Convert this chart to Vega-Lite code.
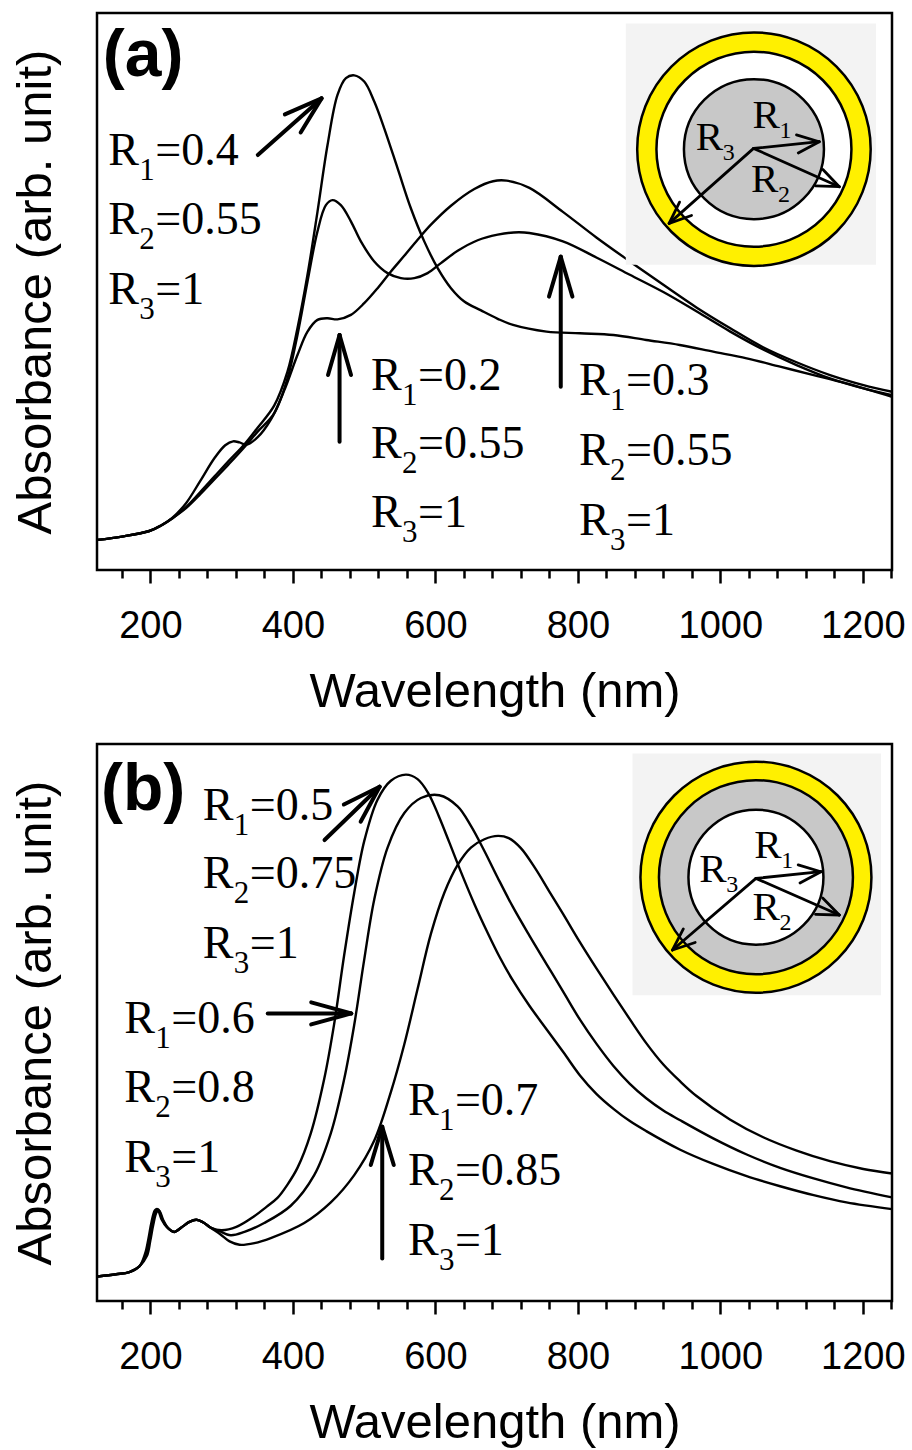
{
"$schema": "https://vega.github.io/schema/vega-lite/v6.json",
"background": "white",
"padding": {"left": 9, "top": 11, "right": 5, "bottom": 0},
"spacing": 174,
"bounds": "flush",
"config": {
  "view": {"stroke": "black", "strokeWidth": 2.5},
  "axis": {"grid": false, "domain": false, "labelFont": "Liberation Sans", "titleFont": "Liberation Sans", "labelColor": "black", "titleColor": "black", "titleFontWeight": "normal", "tickColor": "black"},
  "text": {"font": "Liberation Serif", "color": "black", "align": "left", "baseline": "alphabetic"}
},
"datasets": {
  "a_curves": [
    {"s":"a4","wl":125.4,"val":0.054},{"s":"a4","wl":160,"val":0.060},{"s":"a4","wl":198.5,"val":0.070},{"s":"a4","wl":215,"val":0.080},{"s":"a4","wl":231,"val":0.093},{"s":"a4","wl":250,"val":0.113},{"s":"a4","wl":270,"val":0.140},{"s":"a4","wl":290,"val":0.168},{"s":"a4","wl":310,"val":0.196},{"s":"a4","wl":331.5,"val":0.225},{"s":"a4","wl":350.2,"val":0.255},{"s":"a4","wl":373.7,"val":0.295},{"s":"a4","wl":392.4,"val":0.356},{"s":"a4","wl":406.4,"val":0.434},{"s":"a4","wl":420.5,"val":0.530},{"s":"a4","wl":434.5,"val":0.643},{"s":"a4","wl":448.6,"val":0.763},{"s":"a4","wl":462.6,"val":0.853},{"s":"a4","wl":474.4,"val":0.883},{"s":"a4","wl":486.1,"val":0.888},{"s":"a4","wl":500.1,"val":0.877},{"s":"a4","wl":514.2,"val":0.841},{"s":"a4","wl":528.2,"val":0.793},{"s":"a4","wl":547.0,"val":0.721},{"s":"a4","wl":565.7,"val":0.649},{"s":"a4","wl":584.4,"val":0.590},{"s":"a4","wl":603.2,"val":0.542},{"s":"a4","wl":621.9,"val":0.506},{"s":"a4","wl":640.6,"val":0.482},{"s":"a4","wl":664.1,"val":0.466},{"s":"a4","wl":687.5,"val":0.451},{"s":"a4","wl":709,"val":0.440},{"s":"a4","wl":756,"val":0.428},{"s":"a4","wl":803,"val":0.425},{"s":"a4","wl":850,"val":0.422},{"s":"a4","wl":896,"val":0.413},{"s":"a4","wl":943,"val":0.404},{"s":"a4","wl":990,"val":0.392},{"s":"a4","wl":1037,"val":0.380},{"s":"a4","wl":1084,"val":0.365},{"s":"a4","wl":1131,"val":0.350},{"s":"a4","wl":1177,"val":0.335},{"s":"a4","wl":1241,"val":0.311},
    {"s":"a3","wl":125.4,"val":0.054},{"s":"a3","wl":160,"val":0.060},{"s":"a3","wl":198.5,"val":0.070},{"s":"a3","wl":215,"val":0.080},{"s":"a3","wl":231,"val":0.093},{"s":"a3","wl":250,"val":0.111},{"s":"a3","wl":270,"val":0.136},{"s":"a3","wl":290,"val":0.163},{"s":"a3","wl":310,"val":0.190},{"s":"a3","wl":331.5,"val":0.220},{"s":"a3","wl":350.2,"val":0.248},{"s":"a3","wl":373.7,"val":0.281},{"s":"a3","wl":392.4,"val":0.344},{"s":"a3","wl":406.4,"val":0.422},{"s":"a3","wl":420.5,"val":0.518},{"s":"a3","wl":434.5,"val":0.608},{"s":"a3","wl":446.3,"val":0.655},{"s":"a3","wl":455.6,"val":0.664},{"s":"a3","wl":467.3,"val":0.655},{"s":"a3","wl":481.4,"val":0.626},{"s":"a3","wl":495.4,"val":0.590},{"s":"a3","wl":514.2,"val":0.554},{"s":"a3","wl":532.9,"val":0.533},{"s":"a3","wl":551.6,"val":0.524},{"s":"a3","wl":570.4,"val":0.524},{"s":"a3","wl":589.1,"val":0.533},{"s":"a3","wl":607.8,"val":0.551},{"s":"a3","wl":631.3,"val":0.573},{"s":"a3","wl":659.4,"val":0.592},{"s":"a3","wl":687.5,"val":0.602},{"s":"a3","wl":710,"val":0.606},{"s":"a3","wl":732,"val":0.605},{"s":"a3","wl":779,"val":0.590},{"s":"a3","wl":826,"val":0.561},{"s":"a3","wl":873,"val":0.530},{"s":"a3","wl":920,"val":0.499},{"s":"a3","wl":967,"val":0.464},{"s":"a3","wl":1014,"val":0.428},{"s":"a3","wl":1060,"val":0.396},{"s":"a3","wl":1107,"val":0.368},{"s":"a3","wl":1154,"val":0.344},{"s":"a3","wl":1201,"val":0.326},{"s":"a3","wl":1241,"val":0.314},
    {"s":"a2","wl":125.4,"val":0.054},{"s":"a2","wl":160,"val":0.060},{"s":"a2","wl":198.5,"val":0.070},{"s":"a2","wl":215,"val":0.080},{"s":"a2","wl":231,"val":0.094},{"s":"a2","wl":250,"val":0.120},{"s":"a2","wl":270,"val":0.160},{"s":"a2","wl":290,"val":0.201},{"s":"a2","wl":305,"val":0.224},{"s":"a2","wl":316,"val":0.231},{"s":"a2","wl":325,"val":0.229},{"s":"a2","wl":335,"val":0.225},{"s":"a2","wl":350.2,"val":0.238},{"s":"a2","wl":369,"val":0.270},{"s":"a2","wl":387.7,"val":0.322},{"s":"a2","wl":406.4,"val":0.386},{"s":"a2","wl":420.5,"val":0.428},{"s":"a2","wl":434.5,"val":0.449},{"s":"a2","wl":448.6,"val":0.452},{"s":"a2","wl":462.6,"val":0.450},{"s":"a2","wl":481.4,"val":0.458},{"s":"a2","wl":500.1,"val":0.479},{"s":"a2","wl":518.9,"val":0.506},{"s":"a2","wl":537.6,"val":0.536},{"s":"a2","wl":556.3,"val":0.564},{"s":"a2","wl":575.1,"val":0.593},{"s":"a2","wl":593.8,"val":0.620},{"s":"a2","wl":621.9,"val":0.654},{"s":"a2","wl":654.7,"val":0.684},{"s":"a2","wl":681,"val":0.698},{"s":"a2","wl":700,"val":0.699},{"s":"a2","wl":732,"val":0.686},{"s":"a2","wl":779,"val":0.643},{"s":"a2","wl":826,"val":0.597},{"s":"a2","wl":873,"val":0.554},{"s":"a2","wl":920,"val":0.512},{"s":"a2","wl":967,"val":0.471},{"s":"a2","wl":1014,"val":0.434},{"s":"a2","wl":1060,"val":0.400},{"s":"a2","wl":1107,"val":0.373},{"s":"a2","wl":1154,"val":0.350},{"s":"a2","wl":1201,"val":0.332},{"s":"a2","wl":1241,"val":0.320}
  ],
  "b_curves": [
    {"s":"b5","wl":125.8,"val":0.044},{"s":"b5","wl":151.7,"val":0.048},{"s":"b5","wl":170.4,"val":0.052},{"s":"b5","wl":184.4,"val":0.062},{"s":"b5","wl":192.5,"val":0.085},{"s":"b5","wl":197.2,"val":0.112},{"s":"b5","wl":201.4,"val":0.141},{"s":"b5","wl":206.3,"val":0.163},{"s":"b5","wl":209.8,"val":0.165},{"s":"b5","wl":215.5,"val":0.147},{"s":"b5","wl":222.8,"val":0.133},{"s":"b5","wl":233.6,"val":0.124},{"s":"b5","wl":243.4,"val":0.132},{"s":"b5","wl":254.7,"val":0.142},{"s":"b5","wl":264.5,"val":0.146},{"s":"b5","wl":274.4,"val":0.141},{"s":"b5","wl":284.2,"val":0.132},{"s":"b5","wl":299.7,"val":0.127},{"s":"b5","wl":320.7,"val":0.133},{"s":"b5","wl":345.6,"val":0.152},{"s":"b5","wl":362.9,"val":0.169},{"s":"b5","wl":378.3,"val":0.185},{"s":"b5","wl":392.4,"val":0.209},{"s":"b5","wl":406.4,"val":0.239},{"s":"b5","wl":425.1,"val":0.301},{"s":"b5","wl":444,"val":0.399},{"s":"b5","wl":458,"val":0.498},{"s":"b5","wl":472.1,"val":0.622},{"s":"b5","wl":486.1,"val":0.733},{"s":"b5","wl":500.2,"val":0.826},{"s":"b5","wl":518.8,"val":0.900},{"s":"b5","wl":537.5,"val":0.934},{"s":"b5","wl":558.6,"val":0.945},{"s":"b5","wl":575,"val":0.937},{"s":"b5","wl":590,"val":0.912},{"s":"b5","wl":605,"val":0.870},{"s":"b5","wl":620,"val":0.822},{"s":"b5","wl":636,"val":0.770},{"s":"b5","wl":655,"val":0.712},{"s":"b5","wl":673,"val":0.662},{"s":"b5","wl":690,"val":0.618},{"s":"b5","wl":709,"val":0.575},{"s":"b5","wl":732,"val":0.530},{"s":"b5","wl":756,"val":0.488},{"s":"b5","wl":780,"val":0.446},{"s":"b5","wl":803,"val":0.405},{"s":"b5","wl":826,"val":0.372},{"s":"b5","wl":850,"val":0.345},{"s":"b5","wl":873,"val":0.323},{"s":"b5","wl":896,"val":0.305},{"s":"b5","wl":943,"val":0.272},{"s":"b5","wl":990,"val":0.246},{"s":"b5","wl":1037,"val":0.224},{"s":"b5","wl":1084,"val":0.206},{"s":"b5","wl":1131,"val":0.190},{"s":"b5","wl":1177,"val":0.177},{"s":"b5","wl":1241,"val":0.165},
    {"s":"b6","wl":125.8,"val":0.044},{"s":"b6","wl":151.7,"val":0.048},{"s":"b6","wl":170.4,"val":0.052},{"s":"b6","wl":184.4,"val":0.062},{"s":"b6","wl":193.8,"val":0.083},{"s":"b6","wl":198.5,"val":0.110},{"s":"b6","wl":202.7,"val":0.139},{"s":"b6","wl":207.6,"val":0.162},{"s":"b6","wl":211.1,"val":0.164},{"s":"b6","wl":216.8,"val":0.146},{"s":"b6","wl":223.8,"val":0.132},{"s":"b6","wl":233.6,"val":0.124},{"s":"b6","wl":243.4,"val":0.132},{"s":"b6","wl":254.7,"val":0.142},{"s":"b6","wl":264.5,"val":0.146},{"s":"b6","wl":274.4,"val":0.141},{"s":"b6","wl":284.2,"val":0.132},{"s":"b6","wl":296,"val":0.126},{"s":"b6","wl":312.7,"val":0.118},{"s":"b6","wl":332,"val":0.124},{"s":"b6","wl":359.7,"val":0.140},{"s":"b6","wl":397,"val":0.171},{"s":"b6","wl":429.9,"val":0.226},{"s":"b6","wl":453.2,"val":0.301},{"s":"b6","wl":472.1,"val":0.399},{"s":"b6","wl":486,"val":0.495},{"s":"b6","wl":500,"val":0.612},{"s":"b6","wl":514.2,"val":0.721},{"s":"b6","wl":532.9,"val":0.814},{"s":"b6","wl":556.4,"val":0.876},{"s":"b6","wl":579.7,"val":0.903},{"s":"b6","wl":605.5,"val":0.908},{"s":"b6","wl":631.2,"val":0.888},{"s":"b6","wl":649.9,"val":0.853},{"s":"b6","wl":668.8,"val":0.808},{"s":"b6","wl":687.5,"val":0.760},{"s":"b6","wl":709,"val":0.707},{"s":"b6","wl":732,"val":0.656},{"s":"b6","wl":756,"val":0.605},{"s":"b6","wl":780,"val":0.554},{"s":"b6","wl":803,"val":0.505},{"s":"b6","wl":826,"val":0.462},{"s":"b6","wl":850,"val":0.422},{"s":"b6","wl":873,"val":0.390},{"s":"b6","wl":896,"val":0.364},{"s":"b6","wl":920,"val":0.342},{"s":"b6","wl":943,"val":0.325},{"s":"b6","wl":990,"val":0.292},{"s":"b6","wl":1037,"val":0.263},{"s":"b6","wl":1084,"val":0.239},{"s":"b6","wl":1131,"val":0.220},{"s":"b6","wl":1177,"val":0.204},{"s":"b6","wl":1241,"val":0.186},
    {"s":"b7","wl":125.8,"val":0.044},{"s":"b7","wl":151.7,"val":0.048},{"s":"b7","wl":170.4,"val":0.052},{"s":"b7","wl":184.4,"val":0.062},{"s":"b7","wl":195.1,"val":0.081},{"s":"b7","wl":199.8,"val":0.108},{"s":"b7","wl":204.0,"val":0.137},{"s":"b7","wl":208.9,"val":0.160},{"s":"b7","wl":212.4,"val":0.162},{"s":"b7","wl":218.1,"val":0.145},{"s":"b7","wl":224.8,"val":0.131},{"s":"b7","wl":233.6,"val":0.124},{"s":"b7","wl":243.4,"val":0.132},{"s":"b7","wl":254.7,"val":0.142},{"s":"b7","wl":264.5,"val":0.146},{"s":"b7","wl":274.4,"val":0.141},{"s":"b7","wl":284.2,"val":0.132},{"s":"b7","wl":298,"val":0.120},{"s":"b7","wl":311.2,"val":0.107},{"s":"b7","wl":325,"val":0.101},{"s":"b7","wl":346,"val":0.104},{"s":"b7","wl":368.9,"val":0.113},{"s":"b7","wl":415.9,"val":0.140},{"s":"b7","wl":453.2,"val":0.177},{"s":"b7","wl":486.1,"val":0.226},{"s":"b7","wl":514.2,"val":0.288},{"s":"b7","wl":537.5,"val":0.375},{"s":"b7","wl":556.4,"val":0.461},{"s":"b7","wl":575,"val":0.560},{"s":"b7","wl":593.7,"val":0.659},{"s":"b7","wl":612.6,"val":0.733},{"s":"b7","wl":631.3,"val":0.783},{"s":"b7","wl":649.9,"val":0.814},{"s":"b7","wl":668.8,"val":0.829},{"s":"b7","wl":687.9,"val":0.835},{"s":"b7","wl":703,"val":0.831},{"s":"b7","wl":720,"val":0.813},{"s":"b7","wl":740,"val":0.777},{"s":"b7","wl":760,"val":0.735},{"s":"b7","wl":779.2,"val":0.695},{"s":"b7","wl":802,"val":0.646},{"s":"b7","wl":826.1,"val":0.597},{"s":"b7","wl":850,"val":0.550},{"s":"b7","wl":872.9,"val":0.506},{"s":"b7","wl":896,"val":0.463},{"s":"b7","wl":919.7,"val":0.425},{"s":"b7","wl":943,"val":0.395},{"s":"b7","wl":966.6,"val":0.368},{"s":"b7","wl":1013.4,"val":0.326},{"s":"b7","wl":1060.2,"val":0.294},{"s":"b7","wl":1107.2,"val":0.270},{"s":"b7","wl":1153.9,"val":0.251},{"s":"b7","wl":1200.7,"val":0.237},{"s":"b7","wl":1241,"val":0.229}
  ],
  "a_box": [{"wl":867.3,"wl2":1218.6,"val":0.548,"val2":0.981}],
  "b_box": [{"wl":876.7,"wl2":1225.6,"val":0.549,"val2":0.983}],
  "a_circ": [{"wl":1047.2,"val":0.7555}],
  "b_circ": [{"wl":1050.0,"val":0.7609}],
  "a_arrows": [
    {"wl":350.7,"val":0.745,"wl2":440.2,"val2":0.8467},
    {"wl":440.2,"val":0.8467,"wl2":410.9,"val2":0.7856},
    {"wl":440.2,"val":0.8467,"wl2":388.7,"val2":0.8180},
    {"wl":465.5,"val":0.2303,"wl2":465.5,"val2":0.4219},
    {"wl":465.5,"val":0.4219,"wl2":449.3,"val2":0.3501},
    {"wl":465.5,"val":0.4219,"wl2":481.6,"val2":0.3501},
    {"wl":776.0,"val":0.3291,"wl2":776.0,"val2":0.5625},
    {"wl":776.0,"val":0.5625,"wl2":759.5,"val2":0.4907},
    {"wl":776.0,"val":0.5625,"wl2":792.4,"val2":0.4907}
  ],
  "a_inarrows": [
    {"wl":1046.7,"val":0.7569,"wl2":1138.9,"val2":0.7689},
    {"wl":1138.9,"val":0.7689,"wl2":1109.4,"val2":0.7488},
    {"wl":1138.9,"val":0.7689,"wl2":1106.9,"val2":0.7811},
    {"wl":1046.7,"val":0.7569,"wl2":1167.0,"val2":0.6882},
    {"wl":1167.0,"val":0.6882,"wl2":1133.6,"val2":0.6896},
    {"wl":1167.0,"val":0.6882,"wl2":1144.0,"val2":0.7190},
    {"wl":1046.7,"val":0.7569,"wl2":928.1,"val2":0.6223},
    {"wl":928.1,"val":0.6223,"wl2":959.6,"val2":0.6364},
    {"wl":928.1,"val":0.6223,"wl2":942.8,"val2":0.6605}
  ],
  "b_arrows": [
    {"wl":444.4,"val":0.8276,"wl2":521.7,"val2":0.9233},
    {"wl":521.7,"val":0.9233,"wl2":495.1,"val2":0.8605},
    {"wl":521.7,"val":0.9233,"wl2":471.5,"val2":0.8914},
    {"wl":364.7,"val":0.5163,"wl2":481.9,"val2":0.5163},
    {"wl":481.9,"val":0.5163,"wl2":425.7,"val2":0.5361},
    {"wl":481.9,"val":0.5163,"wl2":425.7,"val2":0.4966},
    {"wl":525.4,"val":0.0765,"wl2":525.4,"val2":0.3129},
    {"wl":525.4,"val":0.3129,"wl2":509.3,"val2":0.2442},
    {"wl":525.4,"val":0.3129,"wl2":541.6,"val2":0.2442}
  ],
  "b_inarrows": [
    {"wl":1050.0,"val":0.7587,"wl2":1141.3,"val2":0.7707},
    {"wl":1141.3,"val":0.7707,"wl2":1111.8,"val2":0.7506},
    {"wl":1141.3,"val":0.7707,"wl2":1109.3,"val2":0.7829},
    {"wl":1050.0,"val":0.7587,"wl2":1167.0,"val2":0.6930},
    {"wl":1167.0,"val":0.6930,"wl2":1133.6,"val2":0.6941},
    {"wl":1167.0,"val":0.6930,"wl2":1143.7,"val2":0.7235},
    {"wl":1050.0,"val":0.7587,"wl2":932.9,"val2":0.6302},
    {"wl":932.9,"val":0.6302,"wl2":964.7,"val2":0.6436},
    {"wl":932.9,"val":0.6302,"wl2":948.1,"val2":0.6680}
  ],
  "a_labels": [
    {"wl":140.9,"val":0.7277,"sub":"1","rest":"=0.4"},
    {"wl":140.9,"val":0.6038,"sub":"2","rest":"=0.55"},
    {"wl":140.9,"val":0.4781,"sub":"3","rest":"=1"},
    {"wl":509.7,"val":0.3232,"sub":"1","rest":"=0.2"},
    {"wl":509.7,"val":0.2004,"sub":"2","rest":"=0.55"},
    {"wl":509.7,"val":0.0777,"sub":"3","rest":"=1"},
    {"wl":801.7,"val":0.3142,"sub":"1","rest":"=0.3"},
    {"wl":801.7,"val":0.1885,"sub":"2","rest":"=0.55"},
    {"wl":801.7,"val":0.0628,"sub":"3","rest":"=1"}
  ],
  "b_labels": [
    {"wl":273.4,"val":0.8636,"sub":"1","rest":"=0.5"},
    {"wl":273.4,"val":0.7408,"sub":"2","rest":"=0.75"},
    {"wl":273.4,"val":0.6151,"sub":"3","rest":"=1"},
    {"wl":163.4,"val":0.4804,"sub":"1","rest":"=0.6"},
    {"wl":163.4,"val":0.3578,"sub":"2","rest":"=0.8"},
    {"wl":163.4,"val":0.2321,"sub":"3","rest":"=1"},
    {"wl":561.4,"val":0.3339,"sub":"1","rest":"=0.7"},
    {"wl":561.4,"val":0.2083,"sub":"2","rest":"=0.85"},
    {"wl":561.4,"val":0.0826,"sub":"3","rest":"=1"}
  ],
  "a_inlabels": [
    {"wl":965.6,"val":0.7540,"sub":"3"},
    {"wl":1045.3,"val":0.7928,"sub":"1"},
    {"wl":1042.9,"val":0.6792,"sub":"2"}
  ],
  "b_inlabels": [
    {"wl":970.3,"val":0.7528,"sub":"3"},
    {"wl":1047.5,"val":0.7946,"sub":"1"},
    {"wl":1045.3,"val":0.6840,"sub":"2"}
  ],
  "a_tag": [{"wl":133.0,"val":0.8874,"t":"(a)"}],
  "b_tag": [{"wl":130.6,"val":0.8820,"t":"(b)"}]
},
"vconcat": [
  {
    "width": 795, "height": 557,
    "layer": [
      {"data": {"name": "a_curves"},
       "mark": {"type": "line", "interpolate": "catmull-rom", "color": "black", "strokeWidth": 2.4},
       "encoding": {
         "x": {"field": "wl", "type": "quantitative", "scale": {"domain": [125, 1241], "nice": false, "zero": false},
               "axis": {"title": "Wavelength (nm)", "values": [160,200,240,280,320,360,400,440,480,520,560,600,640,680,720,760,800,840,880,920,960,1000,1040,1080,1120,1160,1200,1240],
                        "tickCount": 200, "format": "d", "labelExpr": "datum.value % 200 === 0 ? datum.label : ''",
                        "tickSize": {"condition": {"test": "datum.value % 200 === 0", "value": 13}, "value": 8},
                        "tickWidth": 2.5, "labelFontSize": 38, "labelPadding": 24, "labelOverlap": false, "labelFlush": false,
                        "titleFontSize": 49, "titlePadding": 22}},
         "y": {"field": "val", "type": "quantitative", "scale": {"domain": [0, 1], "nice": false, "zero": false},
               "axis": {"title": "Absorbance (arb. unit)", "ticks": false, "labels": false, "titleFontSize": 49, "titlePadding": 37}},
         "detail": {"field": "s"}
       }},
      {"data": {"name": "a_box"}, "mark": {"type": "rect", "color": "#f3f3f3"},
       "encoding": {"x": {"field": "wl", "type": "quantitative"}, "x2": {"field": "wl2"}, "y": {"field": "val", "type": "quantitative"}, "y2": {"field": "val2"}}},
      {"data": {"name": "a_circ"}, "mark": {"type": "circle", "size": 54522, "color": "#fff000", "opacity": 1, "stroke": "black", "strokeWidth": 2.5},
       "encoding": {"x": {"field": "wl", "type": "quantitative"}, "y": {"field": "val", "type": "quantitative"}}},
      {"data": {"name": "a_circ"}, "mark": {"type": "circle", "size": 38025, "color": "white", "opacity": 1, "stroke": "black", "strokeWidth": 2.5},
       "encoding": {"x": {"field": "wl", "type": "quantitative"}, "y": {"field": "val", "type": "quantitative"}}},
      {"data": {"name": "a_circ"}, "mark": {"type": "circle", "size": 19600, "color": "#c8c8c8", "opacity": 1, "stroke": "black", "strokeWidth": 2.5},
       "encoding": {"x": {"field": "wl", "type": "quantitative"}, "y": {"field": "val", "type": "quantitative"}}},
      {"data": {"name": "a_arrows"}, "mark": {"type": "rule", "color": "black", "strokeWidth": 4, "strokeCap": "round"},
       "encoding": {"x": {"field": "wl", "type": "quantitative"}, "y": {"field": "val", "type": "quantitative"}, "x2": {"field": "wl2"}, "y2": {"field": "val2"}}},
      {"data": {"name": "a_inarrows"}, "mark": {"type": "rule", "color": "black", "strokeWidth": 2.8, "strokeCap": "round"},
       "encoding": {"x": {"field": "wl", "type": "quantitative"}, "y": {"field": "val", "type": "quantitative"}, "x2": {"field": "wl2"}, "y2": {"field": "val2"}}},
      {"data": {"name": "a_labels"}, "mark": {"type": "text", "fontSize": 46},
       "encoding": {"x": {"field": "wl", "type": "quantitative"}, "y": {"field": "val", "type": "quantitative"}, "text": {"value": "R"}}},
      {"data": {"name": "a_labels"}, "mark": {"type": "text", "fontSize": 31, "dx": 31, "dy": 15},
       "encoding": {"x": {"field": "wl", "type": "quantitative"}, "y": {"field": "val", "type": "quantitative"}, "text": {"field": "sub"}}},
      {"data": {"name": "a_labels"}, "mark": {"type": "text", "fontSize": 46, "dx": 47},
       "encoding": {"x": {"field": "wl", "type": "quantitative"}, "y": {"field": "val", "type": "quantitative"}, "text": {"field": "rest"}}},
      {"data": {"name": "a_inlabels"}, "mark": {"type": "text", "fontSize": 41},
       "encoding": {"x": {"field": "wl", "type": "quantitative"}, "y": {"field": "val", "type": "quantitative"}, "text": {"value": "R"}}},
      {"data": {"name": "a_inlabels"}, "mark": {"type": "text", "fontSize": 24, "dx": 27, "dy": 10},
       "encoding": {"x": {"field": "wl", "type": "quantitative"}, "y": {"field": "val", "type": "quantitative"}, "text": {"field": "sub"}}},
      {"data": {"name": "a_tag"}, "mark": {"type": "text", "font": "Liberation Sans", "fontWeight": "bold", "fontSize": 66},
       "encoding": {"x": {"field": "wl", "type": "quantitative"}, "y": {"field": "val", "type": "quantitative"}, "text": {"field": "t"}}}
    ]
  },
  {
    "width": 795, "height": 557,
    "layer": [
      {"data": {"name": "b_curves"},
       "mark": {"type": "line", "interpolate": "catmull-rom", "color": "black", "strokeWidth": 2.4},
       "encoding": {
         "x": {"field": "wl", "type": "quantitative", "scale": {"domain": [125, 1241], "nice": false, "zero": false},
               "axis": {"title": "Wavelength (nm)", "values": [160,200,240,280,320,360,400,440,480,520,560,600,640,680,720,760,800,840,880,920,960,1000,1040,1080,1120,1160,1200,1240],
                        "tickCount": 200, "format": "d", "labelExpr": "datum.value % 200 === 0 ? datum.label : ''",
                        "tickSize": {"condition": {"test": "datum.value % 200 === 0", "value": 13}, "value": 8},
                        "tickWidth": 2.5, "labelFontSize": 38, "labelPadding": 24, "labelOverlap": false, "labelFlush": false,
                        "titleFontSize": 49, "titlePadding": 22}},
         "y": {"field": "val", "type": "quantitative", "scale": {"domain": [0, 1], "nice": false, "zero": false},
               "axis": {"title": "Absorbance (arb. unit)", "ticks": false, "labels": false, "titleFontSize": 49, "titlePadding": 37}},
         "detail": {"field": "s"}
       }},
      {"data": {"name": "b_box"}, "mark": {"type": "rect", "color": "#f3f3f3"},
       "encoding": {"x": {"field": "wl", "type": "quantitative"}, "x2": {"field": "wl2"}, "y": {"field": "val", "type": "quantitative"}, "y2": {"field": "val2"}}},
      {"data": {"name": "b_circ"}, "mark": {"type": "circle", "size": 53361, "color": "#fff000", "opacity": 1, "stroke": "black", "strokeWidth": 2.5},
       "encoding": {"x": {"field": "wl", "type": "quantitative"}, "y": {"field": "val", "type": "quantitative"}}},
      {"data": {"name": "b_circ"}, "mark": {"type": "circle", "size": 37636, "color": "#c8c8c8", "opacity": 1, "stroke": "black", "strokeWidth": 2.5},
       "encoding": {"x": {"field": "wl", "type": "quantitative"}, "y": {"field": "val", "type": "quantitative"}}},
      {"data": {"name": "b_circ"}, "mark": {"type": "circle", "size": 18225, "color": "white", "opacity": 1, "stroke": "black", "strokeWidth": 2.5},
       "encoding": {"x": {"field": "wl", "type": "quantitative"}, "y": {"field": "val", "type": "quantitative"}}},
      {"data": {"name": "b_arrows"}, "mark": {"type": "rule", "color": "black", "strokeWidth": 4, "strokeCap": "round"},
       "encoding": {"x": {"field": "wl", "type": "quantitative"}, "y": {"field": "val", "type": "quantitative"}, "x2": {"field": "wl2"}, "y2": {"field": "val2"}}},
      {"data": {"name": "b_inarrows"}, "mark": {"type": "rule", "color": "black", "strokeWidth": 2.8, "strokeCap": "round"},
       "encoding": {"x": {"field": "wl", "type": "quantitative"}, "y": {"field": "val", "type": "quantitative"}, "x2": {"field": "wl2"}, "y2": {"field": "val2"}}},
      {"data": {"name": "b_labels"}, "mark": {"type": "text", "fontSize": 46},
       "encoding": {"x": {"field": "wl", "type": "quantitative"}, "y": {"field": "val", "type": "quantitative"}, "text": {"value": "R"}}},
      {"data": {"name": "b_labels"}, "mark": {"type": "text", "fontSize": 31, "dx": 31, "dy": 15},
       "encoding": {"x": {"field": "wl", "type": "quantitative"}, "y": {"field": "val", "type": "quantitative"}, "text": {"field": "sub"}}},
      {"data": {"name": "b_labels"}, "mark": {"type": "text", "fontSize": 46, "dx": 47},
       "encoding": {"x": {"field": "wl", "type": "quantitative"}, "y": {"field": "val", "type": "quantitative"}, "text": {"field": "rest"}}},
      {"data": {"name": "b_inlabels"}, "mark": {"type": "text", "fontSize": 41},
       "encoding": {"x": {"field": "wl", "type": "quantitative"}, "y": {"field": "val", "type": "quantitative"}, "text": {"value": "R"}}},
      {"data": {"name": "b_inlabels"}, "mark": {"type": "text", "fontSize": 24, "dx": 27, "dy": 10},
       "encoding": {"x": {"field": "wl", "type": "quantitative"}, "y": {"field": "val", "type": "quantitative"}, "text": {"field": "sub"}}},
      {"data": {"name": "b_tag"}, "mark": {"type": "text", "font": "Liberation Sans", "fontWeight": "bold", "fontSize": 66},
       "encoding": {"x": {"field": "wl", "type": "quantitative"}, "y": {"field": "val", "type": "quantitative"}, "text": {"field": "t"}}}
    ]
  }
]
}
